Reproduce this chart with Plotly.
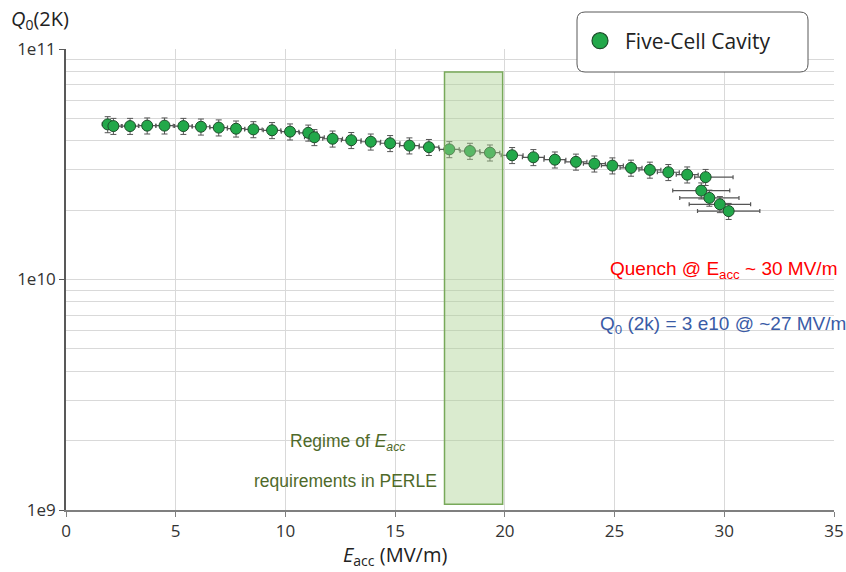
import plotly.graph_objects as go

# Data
e_acc = [1.90, 2.16, 2.92, 3.70, 4.49, 5.35, 6.15, 6.96, 7.75, 8.54, 9.39, 10.21, 11.04, 11.32,
         12.15, 13.00, 13.89, 14.77, 15.65, 16.54, 17.47, 18.41, 19.32, 20.33, 21.30, 22.28,
         23.24, 24.08, 24.90, 25.75, 26.61, 27.45, 28.31, 29.15, 28.95, 29.32, 29.80, 30.20]
q0 = [4.71e10, 4.63e10, 4.63e10, 4.65e10, 4.65e10, 4.63e10, 4.60e10, 4.56e10, 4.51e10, 4.48e10,
      4.44e10, 4.38e10, 4.33e10, 4.14e10, 4.08e10, 4.02e10, 3.96e10, 3.90e10, 3.81e10, 3.75e10,
      3.67e10, 3.61e10, 3.55e10, 3.46e10, 3.39e10, 3.31e10, 3.24e10, 3.18e10, 3.12e10, 3.05e10,
      2.99e10, 2.92e10, 2.85e10, 2.78e10, 2.43e10, 2.26e10, 2.12e10, 1.98e10]
q0_err_pct = 8
e_err_plus = [0.25, 0.4, 0.4, 0.4, 0.4, 0.4, 0.4, 0.4, 0.4, 0.4, 0.4, 0.4, 0.4, 0.45, 0.45, 0.45,
              0.45, 0.45, 0.45, 0.45, 0.45, 0.45, 0.45, 0.5, 0.5, 0.5, 0.5, 0.5, 0.5, 0.5, 0.5,
              0.5, 0.5, 1.25, 1.3, 1.35, 1.4, 1.42]
e_err_minus = [0.25, 0.4, 0.4, 0.4, 0.4, 0.4, 0.4, 0.4, 0.4, 0.4, 0.4, 0.4, 0.4, 0.45, 0.45, 0.45,
               0.45, 0.45, 0.45, 0.45, 0.45, 0.45, 0.45, 0.5, 0.5, 0.5, 0.5, 0.5, 0.5, 0.5, 0.5,
               0.5, 0.5, 0.5, 1.3, 1.35, 1.4, 1.42]

regime_x = [17.25, 19.9]
regime_y = [1.06e9, 7.95e10]

x_ticks = [0, 5, 10, 15, 20, 25, 30, 35]
y_ticks = [1e9, 1e10, 1e11]
y_ticktext = ["1e9", "1e10", "1e11"]

W, H = 846, 572
L, R, T, B = 66, 12, 49, 62
pw, ph = W - L - R, H - T - B


def px(x):  # screen pixel -> paper
    return (x - L) / pw


def py(y):
    return 1 - (y - T) / ph


GREEN = "#22a84a"
fig = go.Figure()
fig.add_trace(go.Scatter(
    x=e_acc, y=q0, mode="markers", name="Five-Cell Cavity", showlegend=False,
    marker=dict(size=11, color=GREEN, line=dict(color="#1e4d2b", width=1)),
    error_y=dict(type="percent", value=q0_err_pct, color="#555555", thickness=1, width=3),
    error_x=dict(type="data", array=e_err_plus, arrayminus=e_err_minus, symmetric=False,
                 color="#555555", thickness=1.2, width=2),
))
# legend entry with a larger marker, as in the reference
fig.add_trace(go.Scatter(
    x=[None], y=[None], mode="markers", name="Five-Cell Cavity",
    marker=dict(size=19, color=GREEN, line=dict(color="#1e4d2b", width=1.2)),
))

fig.add_shape(type="rect", x0=regime_x[0], x1=regime_x[1], y0=regime_y[0], y1=regime_y[1],
              xref="x", yref="y", layer="above",
              fillcolor="rgba(168,208,140,0.42)", line=dict(color="#78a95a", width=1.5))

# Rounded legend box (screen pixels 577..808 x 12..72)
x0, x1, y0, y1, r = 577, 808, 12, 72, 8
path = (f"M {px(x0 + r)},{py(y0)} L {px(x1 - r)},{py(y0)} Q {px(x1)},{py(y0)} {px(x1)},{py(y0 + r)} "
        f"L {px(x1)},{py(y1 - r)} Q {px(x1)},{py(y1)} {px(x1 - r)},{py(y1)} "
        f"L {px(x0 + r)},{py(y1)} Q {px(x0)},{py(y1)} {px(x0)},{py(y1 - r)} "
        f"L {px(x0)},{py(y0 + r)} Q {px(x0)},{py(y0)} {px(x0 + r)},{py(y0)} Z")
fig.add_shape(type="path", xref="paper", yref="paper", layer="above", path=path,
              fillcolor="white", line=dict(color="#595959", width=1))

SANS = "Liberation Sans, Arial"
texts = [
    (9, 19, "<i>Q</i><sub>0</sub>(2K)", "Open Sans", 20, "#222222", "left"),
    (395, 555, "<i>E</i><sub>acc</sub> (MV/m)", "Open Sans", 20, "#222222", "center"),
    (723, 270, "Quench @ E<sub>acc</sub> ~ 30 MV/m", SANS, 19, "#ff0000", "center"),
    (723, 325, "Q<sub>0</sub> (2k) = 3 e10 @ ~27 MV/m", SANS, 19, "#3a5ba6", "center"),
    (347, 442, "Regime of <i>E<sub>acc</sub></i>", SANS, 17.5, "#4f6a2a", "center"),
    (345, 481, "requirements in PERLE", SANS, 17.5, "#4f6a2a", "center"),
]
for x, y, t, fam, size, col, anc in texts:
    fig.add_annotation(x=px(x), y=py(y), xref="paper", yref="paper", text=t, showarrow=False,
                       xanchor=anc, yanchor="middle", font=dict(family=fam, size=size, color=col))

fig.update_layout(
    width=W, height=H, margin=dict(l=L, r=R, t=T, b=B, autoexpand=False),
    plot_bgcolor="white", paper_bgcolor="white",
    showlegend=True,
    legend=dict(x=px(575), y=py(41), xanchor="left", yanchor="middle", bgcolor="rgba(0,0,0,0)",
                borderwidth=0, itemwidth=40,
                font=dict(family="Open Sans", size=21, color="#222222")),
    xaxis=dict(range=[0, 35], tickvals=x_ticks, showgrid=True, gridcolor="#d9d9d9", gridwidth=1,
               zeroline=False, showline=True, linecolor="#7f7f7f", linewidth=1.5,
               ticks="outside", ticklen=5, tickcolor="#7f7f7f",
               tickfont=dict(family="Open Sans", size=17, color="#333333")),
    yaxis=dict(type="log", range=[9, 11], tickvals=y_ticks, ticktext=y_ticktext,
               showgrid=True, gridcolor="#d9d9d9", gridwidth=1,
               showline=True, linecolor="#595959", linewidth=1.5,
               ticks="outside", ticklen=5, tickcolor="#595959",
               tickfont=dict(family="Open Sans", size=17, color="#333333"),
               minor=dict(dtick="D1", showgrid=True, gridcolor="#d9d9d9", ticks="")),
)

fig.write_html("out.html", config={"displayModeBar": False},
               post_script="document.body.style.margin='0';document.body.style.overflow='hidden';")
